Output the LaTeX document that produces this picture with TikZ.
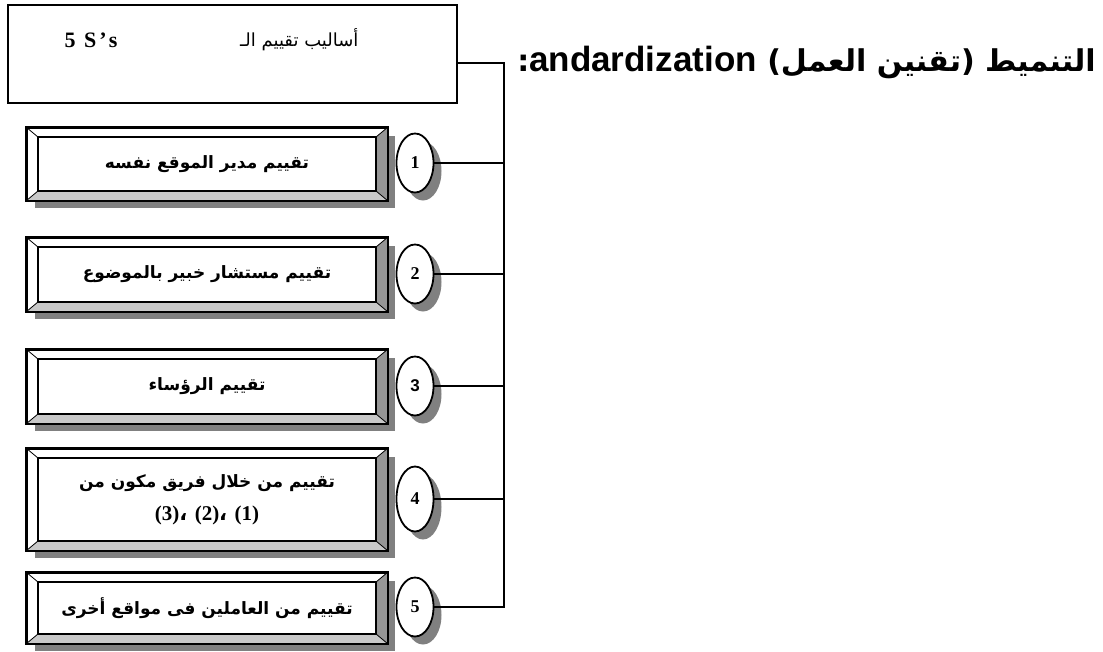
\documentclass[tikz,border=0pt]{standalone}
\usepackage{fontspec}
\usetikzlibrary{shapes.geometric,shadows,calc}
\TeXXeTstate=1
\newfontfamily\arabicfont[Script=Arabic]{DejaVu Sans}
\newfontfamily\latsans{Liberation Sans}
\newfontfamily\latserif{Liberation Serif}
\newfontfamily\latserifsp[LetterSpace=14]{Liberation Serif}
\definecolor{shadowgray}{RGB}{128,128,128}
\definecolor{rightface}{RGB}{150,150,150}
\definecolor{bottomface}{RGB}{200,200,200}
\tikzset{
  bevbox/.style={draw=black, line width=1.6pt, fill=white, rectangle,
    minimum width=360pt, inner sep=0pt, align=center,
    font=\arabicfont\bfseries\fontsize{17}{20}\selectfont,
    drop shadow={shadow xshift=8pt, shadow yshift=-8pt, fill=shadowgray, opacity=1}},
  numell/.style={draw=black, line width=1.8pt, fill=white, ellipse,
    minimum width=37pt, minimum height=59pt, inner sep=0pt,
    font=\latserif\bfseries\fontsize{18}{18}\selectfont,
    drop shadow={shadow xshift=8pt, shadow yshift=-8pt, fill=shadowgray, opacity=1}},
  conn/.style={draw=black, line width=1.4pt},
}
\newcommand\bevfaces[1]{%
  \coordinate (#1inw) at ($(#1.north west)+(12,10)$);
  \coordinate (#1ine) at ($(#1.north east)+(-12,10)$);
  \coordinate (#1ise) at ($(#1.south east)+(-12,-10)$);
  \coordinate (#1isw) at ($(#1.south west)+(12,-10)$);
  \fill[rightface] (#1.north east) -- (#1.south east) -- (#1ise) -- (#1ine) -- cycle;
  \fill[bottomface] (#1.south west) -- (#1.south east) -- (#1ise) -- (#1isw) -- cycle;
  \draw[line width=0.8pt] (#1.north west) -- (#1inw) (#1.north east) -- (#1ine)
    (#1.south east) -- (#1ise) (#1.south west) -- (#1isw);
  \draw[line width=1.8pt] (#1inw) rectangle (#1ise);
  \draw[line width=1.8pt] (#1.north west) rectangle (#1.south east);
}
\begin{document}
\begin{tikzpicture}[x=1pt,y=-1pt]
\useasboundingbox[fill=white] (0,0) rectangle (1103,651);
% top box
\node[draw=black, line width=1.8pt, rectangle, minimum width=449pt, minimum height=98pt, inner sep=0pt] (top) at (232.5,54) {};
\node[font=\arabicfont\fontsize{18}{18}\selectfont, anchor=east] (toptxt) at (362,40) {\beginR أساليب تقييم الـ\endR};
\node[font=\latserifsp\bfseries\fontsize{22}{22}\selectfont, anchor=west] (topnum) at (61,40) {5 S’s};
% title
\node[anchor=east, inner sep=0pt] (title) at (1096,62) {\arabicfont\bfseries\fontsize{30}{30}\selectfont\beginR التنميط (تقنين العمل) \beginL{\latsans\fontsize{35}{35}\selectfont andardization}\endL:\endR};
% boxes
\node[bevbox, minimum height=72pt] (b1) at (207,164) {\beginR تقييم مدير الموقع نفسه\endR};
\node[bevbox, minimum height=73pt] (b2) at (207,274.5) {\beginR تقييم مستشار خبير بالموضوع\endR};
\node[bevbox, minimum height=73pt] (b3) at (207,386.5) {\beginR تقييم الرؤساء\endR};
\node[bevbox, minimum height=101pt] (b4) at (207,499.5) {\beginR تقييم من خلال فريق مكون من\endR\\[13pt] \fontsize{21}{21}\selectfont\beginR{\latserif (1)} {\arabicfont ،}{\latserif (2)} {\arabicfont ،}{\latserif (3)}\endR};
\node[bevbox, minimum height=70pt] (b5) at (207,608) {\beginR تقييم من العاملين فى مواقع أخرى\endR};
\bevfaces{b1}\bevfaces{b2}\bevfaces{b3}\bevfaces{b4}\bevfaces{b5}
% ellipses
\node[numell] (e1) at (415,163) {1};
\node[numell] (e2) at (415,274) {2};
\node[numell, font=\latsans\bfseries\fontsize{17}{17}\selectfont] (e3) at (415,386) {3};
\node[numell, minimum height=65pt] (e4) at (415,499) {4};
\node[numell] (e5) at (415,607) {5};
% connectors
\coordinate (tj) at (504,63);
\draw[conn] (top.east |- tj) -- (tj) -- (e5.east -| tj) -- (e5.east);
\foreach \i in {1,2,3,4} { \draw[conn] (e\i.east) -- (e\i.east -| tj); }
\end{tikzpicture}
\end{document}
